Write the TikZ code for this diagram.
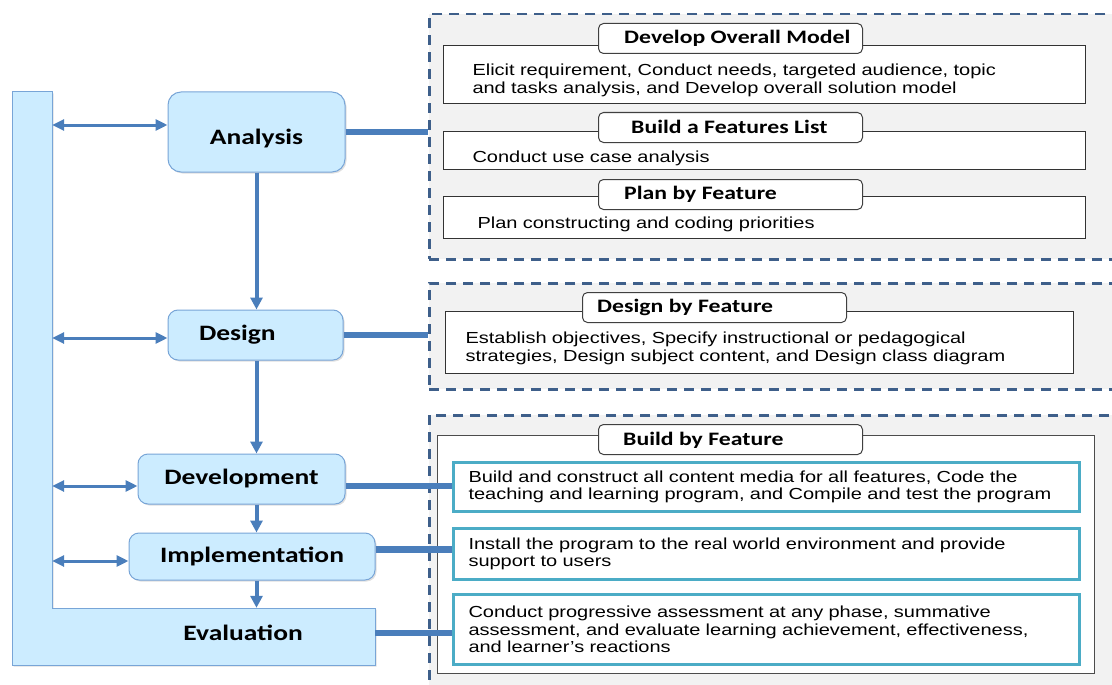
\documentclass[tikz,border=0pt]{standalone}
\usepackage{fontspec}
\newfontfamily\bodyfont[FakeStretch=1.25]{Liberation Sans}
\newfontfamily\labelfont[FakeStretch=1.25]{Carlito}
\usetikzlibrary{arrows.meta, positioning, shadows, calc}

\definecolor{phasefill}{RGB}{204,236,255}
\definecolor{phaseline}{RGB}{120,165,215}
\definecolor{linkblue}{RGB}{74,126,187}
\definecolor{dashblue}{RGB}{62,95,138}
\definecolor{groupgray}{RGB}{242,242,242}
\definecolor{taskcyan}{RGB}{75,172,198}

% pushes the first line of a box down
\newcommand\toppad{\rule{0pt}{23pt}}

\tikzset{
  phasefont/.style={font=\labelfont\bfseries\fontsize{22}{26}\selectfont},
  phase/.style={phasefont, draw=phaseline, fill=phasefill, line width=1pt, rounded corners=10pt,
    drop shadow={opacity=0.25, shadow xshift=1.5pt, shadow yshift=-1.5pt}},
  group/.style={draw=dashblue, fill=groupgray, line width=2.5pt, dash pattern=on 10pt off 7pt,
    anchor=north west, inner sep=0pt},
  stepbox/.style={draw=black!80, fill=white, line width=1pt, anchor=north west, align=left,
    inner ysep=0pt, font=\bodyfont\fontsize{16}{17.5}\selectfont},
  taskbox/.style={stepbox, draw=taskcyan, line width=3pt, text width=596pt, inner xsep=15pt},
  tab/.style={draw=black!75, fill=white, line width=1pt, rounded corners=5pt, anchor=north west,
    minimum width=264pt, minimum height=30pt},
  tablabel/.style={anchor=west, inner sep=0pt, font=\labelfont\bfseries\fontsize{19}{22}\selectfont},
  duplex/.style={linkblue, line width=3pt, {Triangle[length=12pt,width=11pt]}-{Triangle[length=12pt,width=11pt]}},
  flow/.style={linkblue, line width=4pt, -{Triangle[length=12pt,width=12pt]}},
  feed/.style={linkblue, line width=6.5pt},
}

\begin{document}
\begin{tikzpicture}[x=1pt, y=-1pt]
\clip (0,0) rectangle (1112,685);

% life cycle frame
\fill[phasefill, draw=phaseline, line width=1pt, drop shadow={opacity=0.25, shadow xshift=1.5pt, shadow yshift=-1.5pt}]
  (12,92) -- (52,92) -- (52,608) -- (375,608) -- (375,665) -- (12,665) -- cycle;
\node[inner sep=0pt, minimum width=40pt, minimum height=516pt] (lbar) at (32,350) {};
\node[phasefont, anchor=east, inner xsep=72pt, minimum height=57pt, text depth=8pt] (eval) at (375,636.5) {Evaluation};

% feature driven groups
\node[group, minimum width=700pt, minimum height=245pt] (grpA) at (428,13) {};
\node[group, minimum width=700pt, minimum height=106pt] (grpB) at (428,282) {};
\node[group, minimum width=700pt, minimum height=300pt] (grpC) at (428,414) {};

\node[stepbox, text width=584pt, inner xsep=29pt, minimum height=58pt] (model) at (443,45)
  {\toppad Elicit requirement, Conduct needs, targeted audience, topic\\and tasks analysis, and Develop overall solution model};
\node[tab] (modeltab) at (598,23) {};
\node[tablabel] (modellbl) at (624,38) {Develop Overall Model};

\node[stepbox, text width=584pt, inner xsep=29pt, minimum height=38pt, text height=27pt] (list) at (443,131)
  {Conduct use case analysis};
\node[tab] (listtab) at (598,112) {};
\node[tablabel] (listlbl) at (631,127) {Build a Features List};

\node[stepbox, text width=574pt, inner xsep=34pt, minimum height=42pt, text height=25pt] (plan) at (443,196)
  {Plan constructing and coding priorities};
\node[tab] (plantab) at (598,179) {};
\node[tablabel] (planlbl) at (624,194) {Plan by Feature};

\node[stepbox, text width=588pt, inner xsep=20pt, minimum height=62pt] (design) at (445,311)
  {\toppad Establish objectives, Specify instructional or pedagogical\\strategies, Design subject content, and  Design class diagram};
\node[tab] (designtab) at (582,292) {};
\node[tablabel] (designlbl) at (597,307) {Design by Feature};

\node[stepbox, draw=black!70, minimum width=657pt, minimum height=238pt] (build) at (437,435) {};
\node[tab] (buildtab) at (598,424) {};
\node[tablabel] (buildlbl) at (623,440) {Build by Feature};

\node[taskbox, minimum height=49pt] (media) at (452,461)
  {Build and construct all content media for all features, Code the\\teaching and learning program, and  Compile and test the program};
\node[taskbox, minimum height=51pt] (install) at (452,527)
  {Install the program to the real world environment and provide\\support to users};
\node[taskbox, minimum height=70pt] (assess) at (452,593)
  {Conduct progressive assessment at any phase, summative\\assessment, and evaluate learning achievement, effectiveness,\\and learner’s reactions};

% phases
\node[phase, minimum width=177pt, minimum height=80pt, rounded corners=13pt, text height=28.5pt] (ana) at (256.5,132) {Analysis};
\node[phase, minimum width=175pt, minimum height=50pt, text width=113pt, inner xsep=31pt, align=left] (des) at (255.5,335) {Design};
\node[phase, minimum width=207pt, minimum height=50pt] (dev) at (241.5,479) {Development};
\node[phase, minimum width=246pt, minimum height=47pt] (imp) at (252,556.5) {Implementation};

% links to the frame
\coordinate (anaL) at ([yshift=7pt]ana.west);
\coordinate (desL) at ([yshift=-3pt]des.west);
\coordinate (devL) at ([yshift=-7pt]dev.west);
\coordinate (impL) at ([yshift=-4.5pt]imp.west);
\draw[duplex] (anaL -| lbar.east) -- (anaL);
\draw[duplex] (desL -| lbar.east) -- (desL);
\draw[duplex] (devL -| lbar.east) -- (devL);
\draw[duplex] (impL -| lbar.east) -- (impL);

% phase order
\draw[flow] (ana.south) -- (ana.south |- des.north);
\draw[flow] (ana.south |- des.south) -- (ana.south |- dev.north);
\draw[flow] (ana.south |- dev.south) -- (ana.south |- imp.north);
\draw[flow] (ana.south |- imp.south) -- (ana.south |- eval.north);

% phases to features
\coordinate (devR) at ([yshift=-7pt]dev.east);
\coordinate (impR) at ([yshift=7pt]imp.east);
\coordinate (evalR) at ([yshift=3.5pt]eval.east);
\draw[feed] (ana.east) -- (ana.east -| grpA.west);
\draw[feed] (des.east) -- (des.east -| grpB.west);
\draw[feed] (devR) -- (devR -| media.west);
\draw[feed] (impR) -- (impR -| install.west);
\draw[feed] (evalR) -- (evalR -| assess.west);
\end{tikzpicture}
\end{document}
